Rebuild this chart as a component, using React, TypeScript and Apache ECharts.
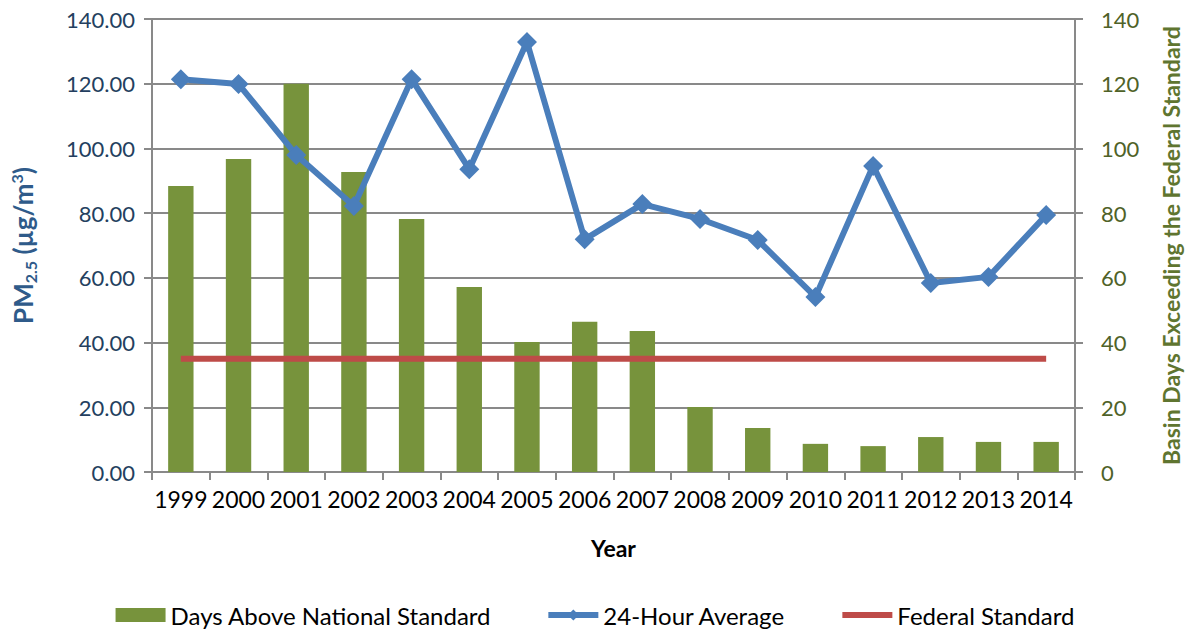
import React, { useEffect, useRef } from "react";
import * as echarts from "echarts";

const years = ["1999","2000","2001","2002","2003","2004","2005","2006","2007","2008","2009","2010","2011","2012","2013","2014"];
const daysAbove = [88.4, 96.7, 120, 92.7, 78.2, 57.2, 40.2, 46.4, 43.6, 20.1, 13.6, 8.7, 8.0, 10.8, 9.3, 9.3];
const avg24 = [121.4, 119.9, 98, 82.2, 121.4, 93.6, 132.9, 71.9, 82.8, 78.2, 71.7, 54.1, 94.6, 58.4, 60.3, 79.4];
const federal = [35, 35, 35, 35, 35, 35, 35, 35, 35, 35, 35, 35, 35, 35, 35, 35];

const FONT = "Lato, 'Open Sans', sans-serif";
const GRID = "#898989";
const BLUE = "#4A7EBB";
const RED = "#BE4B48";
const GREEN = "#77933C";
const NAVY = "#2F5B8A";

export default function App() {
  const ref = useRef<HTMLDivElement>(null);
  useEffect(() => {
    const chart = echarts.init(ref.current!, null, { renderer: "svg" });
    chart.setOption({
      animation: false,
      textStyle: { fontFamily: FONT },
      grid: { left: 143, right: 109, top: 19, bottom: 165 },
      legend: {
        bottom: 5,
        left: "center",
        itemWidth: 50,
        itemHeight: 14,
        itemGap: 54,
        textStyle: { fontSize: 24, color: "#000", fontFamily: FONT },
        data: [
          { name: "Days Above National Standard", icon: "rect" },
          { name: "24-Hour Average", lineStyle: { width: 6, color: BLUE } },
          { name: "Federal Standard", itemStyle: { opacity: 0 }, lineStyle: { width: 6, color: RED, opacity: 1 } },
        ],
      },
      xAxis: {
        type: "category",
        data: years,
        boundaryGap: true,
        name: "Year",
        nameLocation: "middle",
        nameGap: 64,
        nameTextStyle: { fontSize: 23, fontWeight: "bold", color: "#000", fontFamily: FONT },
        axisLine: { lineStyle: { color: GRID, width: 2 } },
        axisTick: { show: true, inside: false, length: 8, interval: 0, lineStyle: { color: GRID, width: 2 } },
        axisLabel: { fontSize: 23, color: "#000", margin: 15, interval: 0, fontFamily: FONT },
      },
      yAxis: [
        {
          type: "value",
          min: 0,
          max: 140,
          interval: 20,
          position: "left",
          name: "{a|PM}{s|2.5}{a| (µg/m}{p|3}{a|)}",
          nameLocation: "middle",
          nameRotate: 90,
          nameGap: 114,
          nameTextStyle: {
            rich: {
              a: { fontSize: 26, fontWeight: "bold", color: NAVY, fontFamily: FONT, lineHeight: 30, verticalAlign: "middle" },
              s: { fontSize: 16, fontWeight: "bold", color: NAVY, fontFamily: FONT, lineHeight: 30, verticalAlign: "bottom", padding: [12, 0, 0, 0] },
              p: { fontSize: 16, fontWeight: "bold", color: NAVY, fontFamily: FONT, lineHeight: 30, verticalAlign: "top", padding: [0, 0, 12, 0] },
            },
          },
          axisLine: { show: true, lineStyle: { color: GRID, width: 2 } },
          axisTick: { show: true, inside: false, length: 8, lineStyle: { color: GRID, width: 2 } },
          axisLabel: { fontSize: 22, color: "#243F60", margin: 17, fontFamily: FONT, formatter: (v: number) => v.toFixed(2) },
          splitLine: { show: true, lineStyle: { color: GRID, width: 2 } },
        },
        {
          type: "value",
          min: 0,
          max: 140,
          interval: 20,
          position: "right",
          name: "Basin Days Exceeding the Federal Standard",
          nameLocation: "middle",
          nameRotate: 90,
          nameGap: 84,
          nameTextStyle: { fontSize: 23, fontWeight: "bold", color: "#5F7530", fontFamily: FONT },
          axisLine: { show: true, lineStyle: { color: GRID, width: 2 } },
          axisTick: { show: true, inside: false, length: 8, lineStyle: { color: GRID, width: 2 } },
          axisLabel: { fontSize: 22, color: "#4F6228", margin: 26, fontFamily: FONT },
          splitLine: { show: false },
        },
      ],
      series: [
        {
          name: "Days Above National Standard",
          type: "bar",
          yAxisIndex: 1,
          data: daysAbove,
          barWidth: "44%",
          itemStyle: { color: GREEN },
        },
        {
          name: "24-Hour Average",
          type: "line",
          yAxisIndex: 0,
          data: avg24,
          symbol: "diamond",
          symbolSize: 20,
          lineStyle: { color: BLUE, width: 6 },
          itemStyle: { color: BLUE },
          z: 4,
        },
        {
          name: "Federal Standard",
          type: "line",
          yAxisIndex: 0,
          data: federal,
          symbol: "none",
          lineStyle: { color: RED, width: 6 },
          itemStyle: { color: RED },
          z: 3,
        },
      ],
    });
    return () => chart.dispose();
  }, []);
  return <div ref={ref} style={{ position: "fixed", left: 0, top: 0, width: 1190, height: 637, background: "#fff" }} />;
}
